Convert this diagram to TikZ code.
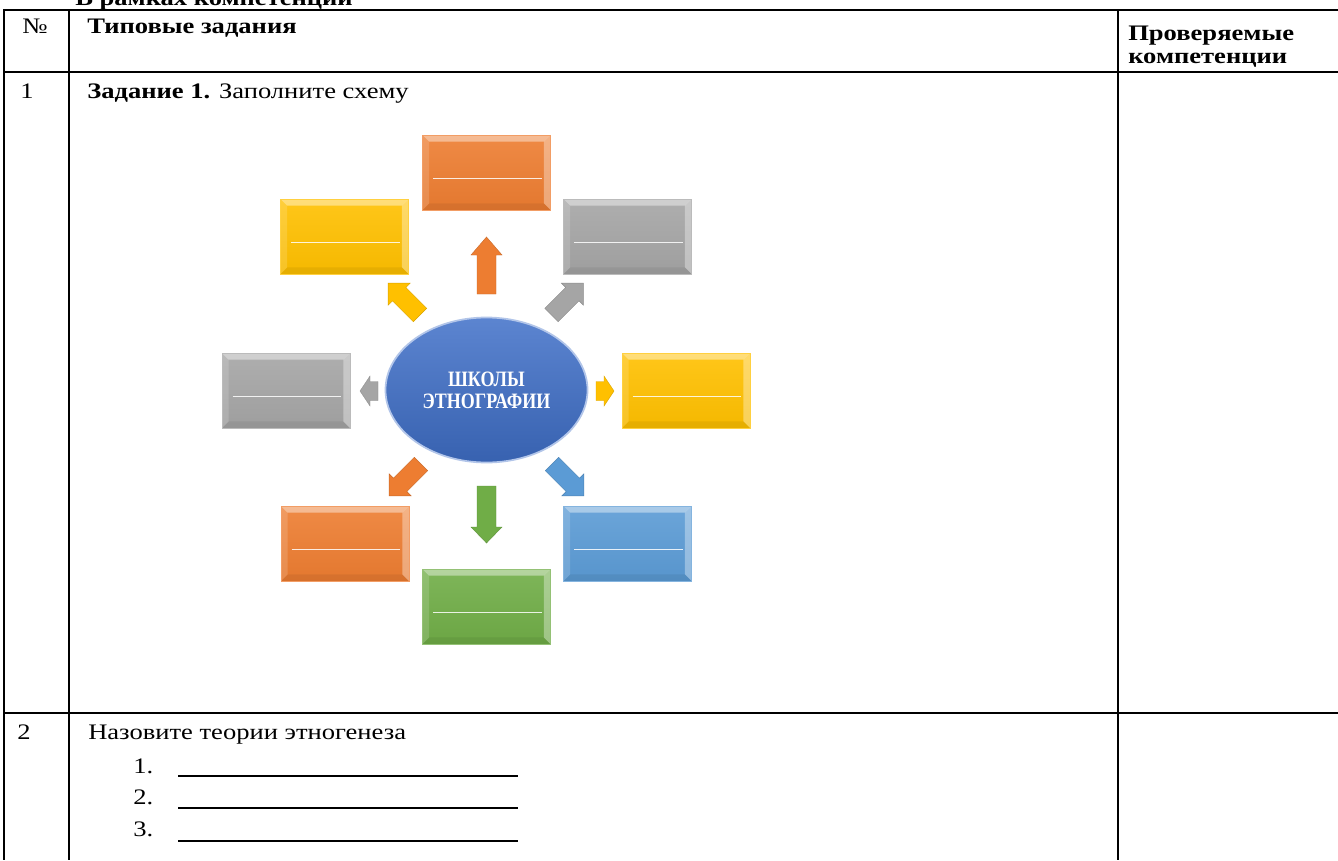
\documentclass[tikz,border=0pt]{standalone}
\usepackage{fontspec}
\setmainfont[FakeStretch=1.2]{Liberation Serif}
\newfontfamily\ellfont{Liberation Serif}
\usetikzlibrary{shapes.geometric,calc}
\definecolor{cOrange}{HTML}{ED7D31}
\definecolor{cGray}{HTML}{A5A5A5}
\definecolor{cYellow}{HTML}{FFC000}
\definecolor{cBlue}{HTML}{5B9BD5}
\definecolor{cGreen}{HTML}{70AD47}
\definecolor{cEll}{HTML}{3F6FC8}
\newcommand{\blkarrow}[7]{%
  \begin{scope}[shift={(#2,#3)}, rotate=#4]
    \fill[#1, draw=#1!85!black, line width=0.3pt] (0,-9.5) -- ({#5-#6},-9.5) -- ({#5-#6},-#7) -- (#5,0) -- ({#5-#6},#7) -- ({#5-#6},9.5) -- (0,9.5) -- cycle;
  \end{scope}}
\tikzset{
  tbl/.style={line width=1.4pt, black},
  uline/.style={line width=1.4pt, black},
  txt/.style={anchor=base west, inner sep=0pt},
  bevelbox/.style={rectangle, inner sep=0pt, minimum width=96pt, minimum height=56.25pt,
    top color=#1!90!white, bottom color=#1!96!black, draw=#1!75!white, line width=0.4pt,
    path picture={
      \fill[white, opacity=0.42] (path picture bounding box.north west) -- (path picture bounding box.north east)
        -- ($(path picture bounding box.north east)+(-5pt,-5pt)$) -- ($(path picture bounding box.north west)+(5pt,-5pt)$) -- cycle;
      \fill[white, opacity=0.15] (path picture bounding box.north west) -- (path picture bounding box.south west)
        -- ($(path picture bounding box.south west)+(5pt,5pt)$) -- ($(path picture bounding box.north west)+(5pt,-5pt)$) -- cycle;
      \fill[white, opacity=0.35] (path picture bounding box.north east) -- (path picture bounding box.south east)
        -- ($(path picture bounding box.south east)+(-5pt,5pt)$) -- ($(path picture bounding box.north east)+(-5pt,-5pt)$) -- cycle;
      \fill[black, opacity=0.06] (path picture bounding box.south west) -- (path picture bounding box.south east)
        -- ($(path picture bounding box.south east)+(-5pt,5pt)$) -- ($(path picture bounding box.south west)+(5pt,5pt)$) -- cycle;
      \draw[white, opacity=0.85, line width=0.7pt] ($(path picture bounding box.center)+(-40pt,-4.1pt)$) -- ($(path picture bounding box.center)+(41.5pt,-4.1pt)$);
    }},
  ellnode/.style={ellipse, inner sep=0pt, minimum width=151.5pt, minimum height=108.75pt,
    top color=cEll!85!white, bottom color=cEll!88!black, draw=cEll!40!white, line width=1.3pt,
    text=white, align=center, font=\ellfont\bfseries\fontsize{13.5pt}{15.75pt}\selectfont}
}
\begin{document}
\begin{tikzpicture}[x=0.75pt, y=-0.75pt, font=\fontsize{16.6pt}{18pt}\selectfont]
\useasboundingbox (0,0) rectangle (1338,860);
\fill[white] (0,0) rectangle (1338,860);
\begin{scope}
  \clip (0,0) rectangle (1338,860);
  \node[txt, font=\bfseries\fontsize{16.6pt}{18pt}\selectfont] (heading) at (75,6) {В рамках компетенции};
\end{scope}

% table grid
\draw[tbl] (3,10) -- (1338,10);
\draw[tbl] (3,72) -- (1338,72);
\draw[tbl] (3,713) -- (1338,713);
\draw[tbl] (4,10) -- (4,860);
\draw[tbl] (69,10) -- (69,860);
\draw[tbl] (1118,10) -- (1118,860);

% header
\node[txt] (hno) at (22,33) {№};
\node[txt, font=\bfseries\fontsize{16.6pt}{18pt}\selectfont] (htask) at (87,33) {Типовые задания};
\node[txt, font=\bfseries\fontsize{16.6pt}{18pt}\selectfont] (hcomp1) at (1128,40) {Проверяемые};
\node[txt, font=\bfseries\fontsize{16.6pt}{18pt}\selectfont] (hcomp2) at (1128,63) {компетенции};

% row 1
\node[txt] (r1no) at (20,98) {1};
\node[txt] (r1task) at (87,98) {\textbf{Задание 1.} Заполните схему};

% diagram
\node[ellnode] (center) at (486.5,390) {\scalebox{1}[1.22]{ШКОЛЫ}\\[1pt]\scalebox{1}[1.22]{ЭТНОГРАФИИ}};
\node[bevelbox=cOrange] (bTop) at (486.5,172.5) {};
\node[bevelbox=cYellow] (bTL) at (344.5,236.5) {};
\node[bevelbox=cGray] (bTR) at (627.5,236.5) {};
\node[bevelbox=cGray] (bL) at (286,390.5) {};
\node[bevelbox=cYellow] (bR) at (686,390.5) {};
\node[bevelbox=cOrange] (bBL) at (345,543.5) {};
\node[bevelbox=cBlue] (bBR) at (627.5,543.5) {};
\node[bevelbox=cGreen] (bB) at (486.5,606.5) {};

\blkarrow{cOrange}{486.5}{294}{90}{57}{18}{15.5}
\blkarrow{cGreen}{486.5}{486}{-90}{57}{16}{15.5}
\blkarrow{cYellow}{420}{315}{135}{45}{15.5}{15.5}
\blkarrow{cGray}{551.5}{315}{45}{45}{15.5}{15.5}
\blkarrow{cOrange}{421}{464}{225}{45}{15.5}{15.5}
\blkarrow{cBlue}{552}{464}{-45}{45}{15.5}{15.5}
\blkarrow{cYellow}{596}{391}{0}{18}{10}{15}
\blkarrow{cGray}{378}{391}{180}{18}{10}{15}

% row 2
\node[txt] (r2no) at (17,739) {2};
\node[txt] (r2task) at (88,739) {Назовите теории этногенеза};
\node[txt] (li1) at (133,773) {1.};
\node[txt] (li2) at (133,804) {2.};
\node[txt] (li3) at (133,836) {3.};
\draw[uline] (178,776) -- (518,776);
\draw[uline] (178,808) -- (518,808);
\draw[uline] (178,841) -- (518,841);
\end{tikzpicture}
\end{document}
